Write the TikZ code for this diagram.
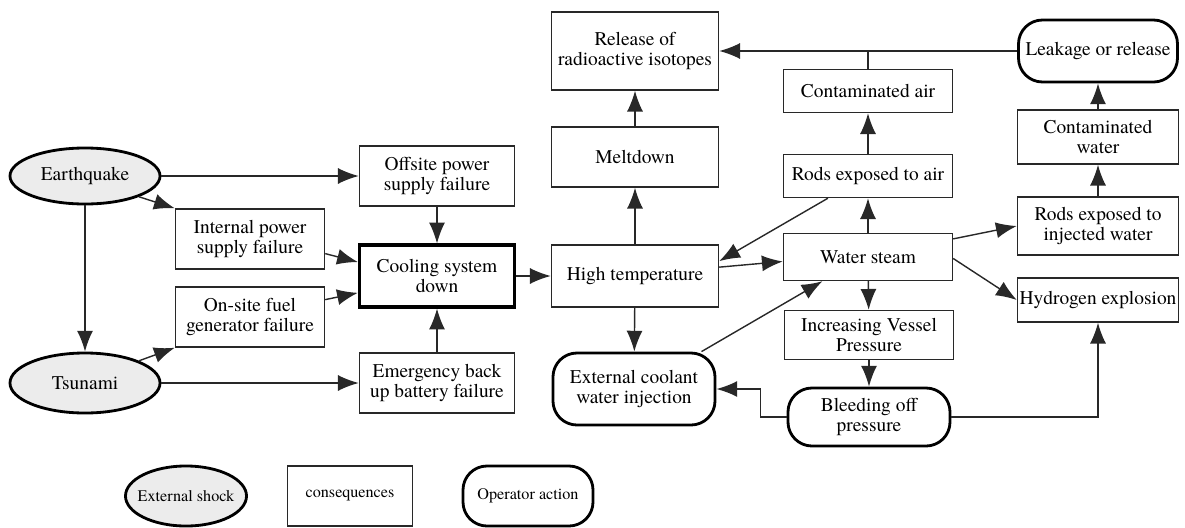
\documentclass[tikz,border=0pt]{standalone}
\usepackage{fontspec}
\setmainfont{texgyretermes}[Extension=.otf, UprightFont=*-regular, BoldFont=*-bold, ItalicFont=*-italic]
\usetikzlibrary{arrows.meta,shapes.geometric}
\definecolor{linegray}{RGB}{40,40,40}
\definecolor{shockfill}{RGB}{236,236,236}

\begin{document}
\begin{tikzpicture}[x=0.025cm, y=-0.025cm,
  shock/.style={ellipse, draw=black, line width=2pt, fill=shockfill, inner sep=0pt, align=center, font=\fontsize{13.8}{14.8}\selectfont},
  cons/.style={rectangle, draw=linegray, line width=1pt, inner sep=0pt, align=center, font=\fontsize{13.8}{14.8}\selectfont},
  oper/.style={rectangle, draw=black, line width=2pt, rounded corners=0.6cm, inner sep=0pt, align=center, font=\fontsize{13.8}{14.8}\selectfont},
  legend/.style={font=\fontsize{11.5}{13}\selectfont},
  arrow/.style={-{Latex[length=5.2mm,width=4mm]}, draw=linegray, line width=1pt}
]
\useasboundingbox (0,0) rectangle (1185,527);

% External shocks
\node[shock, minimum width=3.75cm, minimum height=1.4cm] (quake) at (85,176) {Earthquake};
\node[shock, minimum width=3.75cm, minimum height=1.5cm] (tsunami) at (85,383) {Tsunami};

% Power failures
\node[cons, minimum width=3.725cm, minimum height=1.5cm] (internal) at (250,239) {Internal power\\supply failure};
\node[cons, minimum width=3.725cm, minimum height=1.5cm] (onsite) at (250,317) {On-site fuel\\generator failure};
\node[cons, minimum width=3.875cm, minimum height=1.5cm] (offsite) at (437,176) {Offsite power\\supply failure};
\node[cons, line width=2.2pt, draw=black, minimum width=3.875cm, minimum height=1.55cm] (cooling) at (437,276) {Cooling system\\down};
\node[cons, minimum width=3.875cm, minimum height=1.5cm] (battery) at (437,383) {Emergency back\\up battery failure};

% Core consequences
\node[cons, minimum width=4.175cm, minimum height=1.95cm] (release) at (635,51) {Release of\\radioactive isotopes};
\node[cons, minimum width=4.175cm, minimum height=1.5cm] (meltdown) at (635,157) {Meltdown};
\node[cons, minimum width=4.175cm, minimum height=1.55cm] (hightemp) at (635,276) {High temperature};
\node[oper, minimum width=4.05cm, minimum height=1.8cm] (coolant) at (634,389) {External coolant\\water injection};

% Steam branch
\node[cons, minimum width=4.225cm, minimum height=1.075cm] (air) at (868,91) {Contaminated air};
\node[cons, minimum width=4.225cm, minimum height=1.075cm] (rodsair) at (868,176) {Rods exposed to air};
\node[cons, minimum width=4.225cm, minimum height=1.175cm] (steam) at (868,257) {Water steam};
\node[cons, minimum width=4.225cm, minimum height=1.225cm] (vessel) at (869,335) {Increasing Vessel\\Pressure};
\node[oper, minimum width=4.05cm, minimum height=1.45cm] (bleed) at (869,417) {Bleeding off\\pressure};

% Water branch
\node[oper, minimum width=3.975cm, minimum height=1.55cm] (leak) at (1098,51) {Leakage or release};
\node[cons, minimum width=4.025cm, minimum height=1.35cm] (water) at (1098,137) {Contaminated\\water};
\node[cons, minimum width=4.025cm, minimum height=1.45cm] (rodswater) at (1098,226) {Rods exposed to\\injected water};
\node[cons, minimum width=4.025cm, minimum height=1.1cm] (hydrogen) at (1098,300) {Hydrogen explosion};

% Legend
\node[shock, legend, minimum width=3.025cm, minimum height=1.5cm] (legshock) at (186,496) {\makebox[0pt]{External shock}};
\node[cons, legend, minimum width=3.125cm, minimum height=1.5cm] (legcons) at (350,496) {consequences};
\node[oper, legend, minimum width=3.25cm, minimum height=1.5cm] (legoper) at (528,496) {Operator action};

% Arrows
\draw[arrow] (quake) -- (offsite);
\draw[arrow] (quake.south east) -- (internal.north west);
\draw[arrow] (quake) -- (tsunami);
\draw[arrow] (tsunami.north east) -- (onsite.south west);
\draw[arrow] (tsunami) -- (battery);

\draw[arrow] (internal.-11) -- (cooling.170);
\draw[arrow] (onsite.13) -- (cooling.192);
\draw[arrow] (offsite) -- (cooling);
\draw[arrow] (battery) -- (cooling);
\draw[arrow] (cooling) -- (hightemp);

\draw[arrow] (hightemp) -- (meltdown);
\draw[arrow] (meltdown) -- (release);
\draw[arrow] (hightemp.6) -- (steam.183);
\draw[arrow] (rodsair.209) -- (hightemp.10);
\draw[arrow] (hightemp) -- (coolant);
\draw[arrow] (coolant.29) -- (steam.208);

\draw[arrow] (steam) -- (rodsair);
\draw[arrow] (rodsair) -- (air);
\draw[line width=1pt, draw=linegray] (air.north) -- (air.north |- leak.west);
\draw[arrow] (leak.west) -- (release.east);
\draw[arrow] (steam) -- (vessel);
\draw[arrow] (vessel) -- (bleed);
\draw[arrow] (bleed.west) -- ++(-26,0) |- (coolant.east);
\draw[arrow] (bleed.east) -| (hydrogen.south);

\draw[arrow] (steam.12) -- (rodswater.west);
\draw[arrow] (steam.-1) -- (hydrogen.west);
\draw[arrow] (rodswater) -- (water);
\draw[arrow] (water) -- (leak);

\end{tikzpicture}
\end{document}
